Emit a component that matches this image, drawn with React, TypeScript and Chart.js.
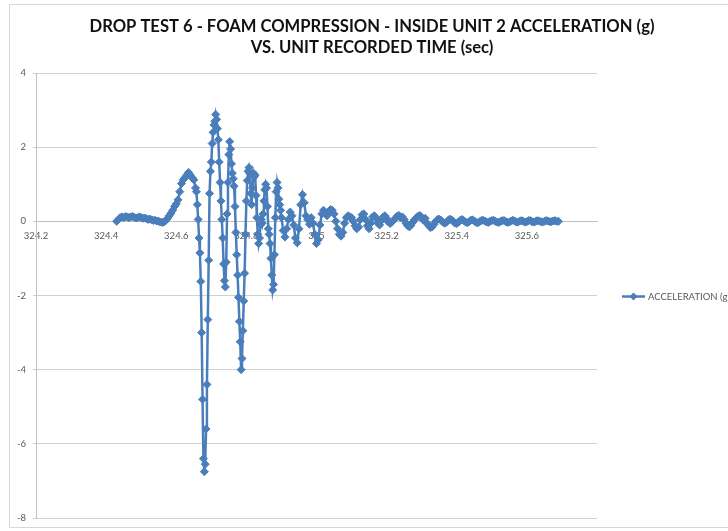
import { useEffect, useRef } from "react";
import { Chart, registerables } from "chart.js";

Chart.register(...registerables);

// ---- Chart text ----
const TITLE_LINES = [
  "DROP TEST 6 - FOAM COMPRESSION - INSIDE UNIT 2 ACCELERATION (g)",
  "VS. UNIT RECORDED TIME (sec)",
];
const SERIES_LABEL = "ACCELERATION (g)";

// ---- Axes ----
const X_MIN = 324.2;
const X_MAX = 325.8;
const X_TICKS = [324.2, 324.4, 324.6, 324.8, 325.0, 325.2, 325.4, 325.6];
const X_TICK_LABELS = ["324.2", "324.4", "324.6", "324.8", "325", "325.2", "325.4", "325.6"];
const Y_MIN = -8;
const Y_MAX = 4;
const Y_TICKS = [-8, -6, -4, -2, 0, 2, 4];
const Y_TICK_LABELS = ["-8", "-6", "-4", "-2", "0", "2", "4"];

// ---- Recorded samples: time (sec) and acceleration (g) ----
// Before impact (5 ms samples)
const PRE_T = [
  324.430, 324.435, 324.440, 324.445, 324.450, 324.455, 324.460, 324.465, 324.470, 324.475,
  324.480, 324.485, 324.490, 324.495, 324.500, 324.505, 324.510, 324.515, 324.520, 324.525,
  324.530, 324.535, 324.540, 324.545, 324.550, 324.555, 324.560, 324.565, 324.570, 324.575,
  324.580, 324.585, 324.590, 324.595, 324.600, 324.605, 324.610, 324.615, 324.620, 324.625,
  324.630, 324.635, 324.640, 324.645, 324.650, 324.655,
];
const PRE_G = [
  0.00, 0.05, 0.10, 0.12, 0.10, 0.13, 0.12, 0.10, 0.12, 0.13,
  0.11, 0.09, 0.10, 0.12, 0.10, 0.08, 0.09, 0.07, 0.05, 0.06,
  0.04, 0.02, 0.03, 0.01, 0.00, -0.02, -0.03, -0.02, 0.02, 0.08,
  0.15, 0.22, 0.30, 0.40, 0.47, 0.58, 0.80, 1.02, 1.12, 1.18,
  1.25, 1.32, 1.25, 1.18, 1.12, 0.90,
];

// Impact (2.5 ms samples)
const IMPACT_T = [
  324.6575, 324.6600, 324.6625, 324.6650, 324.6675, 324.6700, 324.6725, 324.6750, 324.6775, 324.6800,
  324.6825, 324.6850, 324.6875, 324.6900, 324.6925, 324.6950, 324.6975, 324.7000, 324.7025, 324.7050,
  324.7075, 324.7100, 324.7125, 324.7150, 324.7175, 324.7200, 324.7225, 324.7250, 324.7275, 324.7300,
  324.7325, 324.7350, 324.7375, 324.7400, 324.7425, 324.7450, 324.7475, 324.7500, 324.7525, 324.7550,
  324.7575, 324.7600, 324.7625, 324.7650, 324.7675, 324.7700, 324.7725, 324.7750, 324.7775, 324.7800,
  324.7825, 324.7850, 324.7875, 324.7900, 324.7925, 324.7950, 324.7975, 324.8000, 324.8025, 324.8050,
  324.8075, 324.8100, 324.8125, 324.8150, 324.8175, 324.8200, 324.8225, 324.8250, 324.8275, 324.8300,
  324.8325, 324.8350, 324.8375, 324.8400, 324.8425, 324.8450, 324.8475, 324.8500, 324.8525, 324.8550,
  324.8575, 324.8600, 324.8625, 324.8650, 324.8675, 324.8700, 324.8725, 324.8750, 324.8775, 324.8800,
  324.8825, 324.8850, 324.8875, 324.8900, 324.8925, 324.8950, 324.8975, 324.9000,
];
const IMPACT_G = [
  0.80, 0.45, 0.05, -0.45, -0.85, -1.62, -3.00, -4.80, -6.40, -6.75,
  -6.55, -5.60, -4.40, -2.65, -1.05, 0.75, 1.35, 1.60, 2.10, 2.40,
  2.60, 2.70, 2.88, 2.75, 2.50, 2.20, 1.60, 1.05, 0.55, 0.05,
  -0.45, -1.15, -1.60, -1.77, -1.10, 0.20, 1.05, 1.80, 2.15, 1.95,
  1.55, 1.30, 1.15, 0.95, 0.40, -0.30, -0.90, -1.45, -2.05, -2.70,
  -3.25, -4.00, -3.70, -2.95, -2.15, -1.40, -0.35, 0.55, 1.10, 1.35,
  1.45, 1.30, 0.75, 0.45, 0.90, 1.30, 1.20, 1.25, 0.70, 0.10,
  -0.35, -0.60, -0.45, -0.10, 0.05, -0.05, 0.20, 0.55, 0.85, 1.00,
  0.90, 0.40, -0.20, -0.35, -0.60, -1.00, -1.45, -1.85, -1.70, -0.90,
  0.10, 0.80, 1.05, 0.90, 0.60, 0.45, 0.30, 0.10,
];

// Ring-down after impact (5 ms samples)
const DECAY_T = [
  324.905, 324.910, 324.915, 324.920, 324.925, 324.930, 324.935, 324.940, 324.945, 324.950,
  324.955, 324.960, 324.965, 324.970, 324.975, 324.980, 324.985, 324.990, 324.995, 325.000,
  325.005, 325.010, 325.015, 325.020, 325.025, 325.030, 325.035, 325.040, 325.045, 325.050,
  325.055, 325.060, 325.065, 325.070, 325.075, 325.080, 325.085, 325.090, 325.095, 325.100,
  325.105, 325.110, 325.115, 325.120, 325.125, 325.130, 325.135, 325.140, 325.145, 325.150,
  325.155, 325.160, 325.165, 325.170, 325.175, 325.180, 325.185, 325.190, 325.195, 325.200,
  325.205, 325.210, 325.215, 325.220, 325.225, 325.230, 325.235, 325.240, 325.245, 325.250,
  325.255, 325.260, 325.265, 325.270, 325.275, 325.280, 325.285, 325.290, 325.295, 325.300,
  325.305, 325.310, 325.315, 325.320, 325.325, 325.330, 325.335, 325.340, 325.345, 325.350,
  325.355, 325.360, 325.365, 325.370, 325.375, 325.380, 325.385, 325.390, 325.395, 325.400,
  325.405, 325.410, 325.415, 325.420, 325.425, 325.430, 325.435, 325.440, 325.445, 325.450,
  325.455, 325.460, 325.465, 325.470, 325.475, 325.480, 325.485, 325.490, 325.495, 325.500,
  325.505, 325.510, 325.515, 325.520, 325.525, 325.530, 325.535, 325.540, 325.545, 325.550,
  325.555, 325.560, 325.565, 325.570, 325.575, 325.580, 325.585, 325.590, 325.595, 325.600,
  325.605, 325.610, 325.615, 325.620, 325.625, 325.630, 325.635, 325.640, 325.645, 325.650,
  325.655, 325.660, 325.665, 325.670, 325.675, 325.680, 325.685, 325.690,
];
const DECAY_G = [
  -0.25, -0.42, -0.20, 0.05, 0.25, 0.15, -0.10, -0.45, -0.58, -0.20,
  0.45, 0.72, 0.50, 0.15, 0.05, -0.08, 0.10, -0.05, -0.35, -0.60,
  -0.50, -0.10, 0.20, 0.30, 0.22, 0.15, 0.25, 0.32, 0.30, 0.20,
  0.00, -0.20, -0.35, -0.40, -0.30, -0.05, 0.10, 0.15, 0.12, 0.10,
  0.00, -0.12, -0.20, -0.15, 0.05, 0.18, 0.20, 0.05, -0.12, -0.20,
  -0.05, 0.12, 0.15, 0.08, -0.05, -0.10, 0.02, 0.12, 0.15, 0.08,
  -0.02, -0.06, -0.02, 0.03, 0.08, 0.14, 0.16, 0.10, 0.12, 0.05,
  -0.05, -0.12, -0.15, -0.10, -0.02, 0.05, 0.10, 0.14, 0.16, 0.10,
  0.03, 0.08, -0.05, -0.12, -0.17, -0.15, -0.08, 0.00, 0.05, 0.06,
  0.03, -0.02, -0.05, -0.03, 0.02, 0.06, 0.04, 0.00, -0.05, -0.06,
  -0.02, 0.03, 0.05, 0.02, -0.02, -0.04, -0.01, 0.03, 0.04, 0.01,
  -0.03, -0.04, -0.01, 0.02, 0.03, 0.01, -0.02, -0.03, 0.00, 0.02,
  0.03, 0.00, -0.02, -0.03, 0.00, 0.02, 0.02, -0.01, -0.03, -0.02,
  0.01, 0.03, 0.01, -0.02, -0.02, 0.01, 0.02, 0.00, -0.02, -0.01,
  0.02, 0.02, -0.01, -0.02, 0.00, 0.02, 0.01, -0.01, -0.02, 0.00,
  0.02, 0.01, -0.01, -0.01, 0.01, 0.02, 0.00, 0.00,
];

const SERIES_COLOR = "#4a7ebb";
const TICK_COLOR = "#595959";
const FONT_FAMILY = "Lato, 'Open Sans', sans-serif";

const CANVAS_W = 724;
const CANVAS_H = 522;

// Excel-style key: a short line with a diamond marker, beside the plot
const seriesKey = {
  id: "seriesKey",
  afterDraw(chart: any) {
    const { ctx, chartArea } = chart;
    const ds = chart.data.datasets[0];
    const cy = Math.round((chartArea.top + chartArea.bottom) / 2) + 0.5;
    const x0 = chartArea.right + 25;
    const x1 = x0 + 23;
    const cx = (x0 + x1) / 2;
    const r = 4;
    ctx.save();
    ctx.strokeStyle = ds.borderColor;
    ctx.lineWidth = ds.borderWidth;
    ctx.beginPath();
    ctx.moveTo(x0, cy);
    ctx.lineTo(x1, cy);
    ctx.stroke();
    ctx.fillStyle = ds.pointBackgroundColor;
    ctx.beginPath();
    ctx.moveTo(cx, cy - r);
    ctx.lineTo(cx + r, cy);
    ctx.lineTo(cx, cy + r);
    ctx.lineTo(cx - r, cy);
    ctx.closePath();
    ctx.fill();
    ctx.fillStyle = TICK_COLOR;
    ctx.font = `9.5px ${FONT_FAMILY}`;
    ctx.textAlign = "left";
    ctx.textBaseline = "middle";
    ctx.fillText(ds.label, x1 + 3, cy);
    ctx.restore();
  },
};

export default function App() {
  const canvasRef = useRef<HTMLCanvasElement | null>(null);

  useEffect(() => {
    const canvas = canvasRef.current;
    if (!canvas) return;

    const times = [...PRE_T, ...IMPACT_T, ...DECAY_T];
    const accel = [...PRE_G, ...IMPACT_G, ...DECAY_G];
    const points = times.map((t, i) => ({ x: t, y: accel[i] }));

    const tickFont = { family: FONT_FAMILY, size: 9.5 };
    const titleSize = 16.6;
    const titleLineHeight = 21.5;

    const chart = new Chart(canvas, {
      type: "scatter",
      data: {
        datasets: [
          {
            label: SERIES_LABEL,
            data: points,
            showLine: true,
            borderColor: SERIES_COLOR,
            borderWidth: 2.5,
            tension: 0,
            pointStyle: "rectRot",
            pointRadius: 4,
            pointBackgroundColor: SERIES_COLOR,
            pointBorderColor: SERIES_COLOR,
            pointBorderWidth: 1,
          },
        ],
      },
      options: {
        animation: false,
        responsive: false,
        layout: { padding: { left: 0, right: 0, top: 0, bottom: 9 } },
        plugins: {
          legend: { display: false },
          tooltip: { enabled: false },
          title: {
            display: true,
            text: TITLE_LINES,
            color: "#111111",
            font: {
              family: FONT_FAMILY,
              size: titleSize,
              weight: "bold",
              lineHeight: titleLineHeight / titleSize,
            },
            padding: { top: 10.5, bottom: 14.5 },
          },
        },
        scales: {
          x: {
            type: "linear",
            position: { y: 0 } as any,
            min: X_MIN,
            max: X_MAX,
            afterBuildTicks: (s: any) => {
              s.ticks = X_TICKS.map((v) => ({ value: v }));
            },
            afterFit: (s: any) => {
              s.height = 0;
            },
            grid: { display: false, drawTicks: false },
            border: { display: true, color: "#bfbfbf", width: 1 },
            ticks: {
              autoSkip: false,
              maxRotation: 0,
              padding: 9,
              color: TICK_COLOR,
              font: tickFont,
              callback: (_v: any, i: number) => X_TICK_LABELS[i],
            },
          },
          y: {
            type: "linear",
            position: "left",
            min: Y_MIN,
            max: Y_MAX,
            afterBuildTicks: (s: any) => {
              s.ticks = Y_TICKS.map((v) => ({ value: v }));
            },
            afterFit: (s: any) => {
              s.width = 26;
              s.paddingTop = 0;
              s.paddingBottom = 0;
            },
            grid: { color: "#d0d0d0", lineWidth: 1, drawTicks: true, tickLength: 3 },
            border: { display: true, color: "#bfbfbf", width: 1 },
            ticks: {
              padding: 7,
              color: TICK_COLOR,
              font: tickFont,
              callback: (_v: any, i: number) => Y_TICK_LABELS[i],
            },
          },
          // empty right-hand gutter that holds the series key
          keyGutter: {
            type: "linear",
            position: "right",
            display: true,
            grid: { display: false },
            border: { display: false },
            ticks: { display: false },
            afterFit: (s: any) => {
              s.width = CANVAS_W - 587;
              s.paddingTop = 0;
              s.paddingBottom = 0;
            },
          },
        },
      },
      plugins: [seriesKey],
    } as any);

    return () => chart.destroy();
  }, []);

  return (
    <div
      style={{
        position: "absolute",
        left: 9,
        top: 4,
        width: 718,
        height: CANVAS_H,
        overflow: "hidden",
        borderTop: "1px solid #d9d9d9",
        borderLeft: "1px solid #d9d9d9",
        borderBottom: "1px solid #d9d9d9",
        background: "#ffffff",
      }}
    >
      <canvas
        ref={canvasRef}
        width={CANVAS_W}
        height={CANVAS_H}
        style={{ display: "block", width: CANVAS_W, height: CANVAS_H }}
      />
    </div>
  );
}
